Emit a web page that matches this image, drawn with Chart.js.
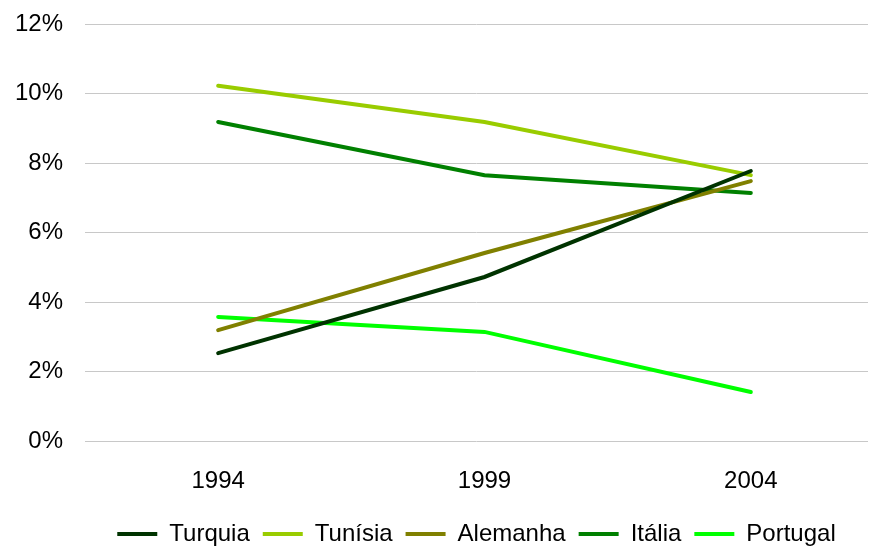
<!DOCTYPE html>
<html>
<head>
<meta charset="utf-8">
<script src="https://cdn.jsdelivr.net/npm/chart.js@4/dist/chart.umd.min.js"></script>
<style>
  html, body { margin: 0; padding: 0; background: #fff; }
  #wrap { width: 869px; height: 549px; position: relative; }
</style>
</head>
<body>
<div id="wrap"><canvas id="c" width="869" height="549"></canvas></div>
<script>
const years = [1994, 1999, 2004];
const turquia  = [2.53, 4.72, 7.77];
const tunisia  = [10.22, 9.18, 7.65];
const alemanha = [3.19, 5.41, 7.48];
const italia   = [9.18, 7.65, 7.14];
const portugal = [3.57, 3.14, 1.41];
const yTicks = [0, 2, 4, 6, 8, 10, 12];

const FONT = "'Liberation Sans', Arial, sans-serif";

function series(label, vals, color) {
  return {
    label: label,
    data: years.map((y, i) => ({ x: y, y: vals[i] })),
    borderColor: color,
    backgroundColor: color,
    borderWidth: 4,
    borderCapStyle: 'round',
    pointRadius: 0,
    pointHoverRadius: 0,
    tension: 0,
    fill: false,
    pointStyle: 'line'
  };
}

new Chart(document.getElementById('c'), {
  type: 'line',
  data: {
    datasets: [
      series('Turquia', turquia, '#003300'),
      series('Tunísia', tunisia, '#99CC00'),
      series('Alemanha', alemanha, '#808000'),
      series('Itália', italia, '#008000'),
      series('Portugal', portugal, '#00FF00')
    ]
  },
  options: {
    responsive: false,
    animation: false,
    layout: { padding: { left: 15, right: 1, top: 24, bottom: -7 } },
    scales: {
      x: {
        type: 'linear',
        min: 1991.5,
        max: 2006.2,
        afterBuildTicks: (axis) => { axis.ticks = years.map(v => ({ value: v })); },
        afterFit: (scale) => { scale.height = 68; scale.paddingLeft = 0; scale.paddingRight = 0; },
        grid: { display: false },
        border: { display: false },
        ticks: {
          color: '#000',
          font: { family: FONT, size: 24 },
          padding: 18,
          maxRotation: 0,
          callback: (v) => String(v)
        }
      },
      y: {
        min: 0,
        max: 12,
        afterBuildTicks: (axis) => { axis.ticks = yTicks.map(v => ({ value: v })); },
        afterFit: (scale) => { scale.width = 70; scale.paddingTop = 0; scale.paddingBottom = 0; },
        grid: { color: '#c8c8c8', lineWidth: 1, drawTicks: false },
        border: { display: false },
        ticks: {
          color: '#000',
          font: { family: FONT, size: 24 },
          padding: 22,
          callback: (v) => v + '%'
        }
      }
    },
    plugins: {
      legend: {
        position: 'bottom',
        fullSize: false,
        labels: {
          color: '#000',
          font: { family: FONT, size: 24 },
          usePointStyle: true,
          pointStyle: 'line',
          pointStyleWidth: 40,
          padding: 13,
          boxHeight: 4
        }
      },
      tooltip: { enabled: false }
    }
  }
});
</script>
</body>
</html>
